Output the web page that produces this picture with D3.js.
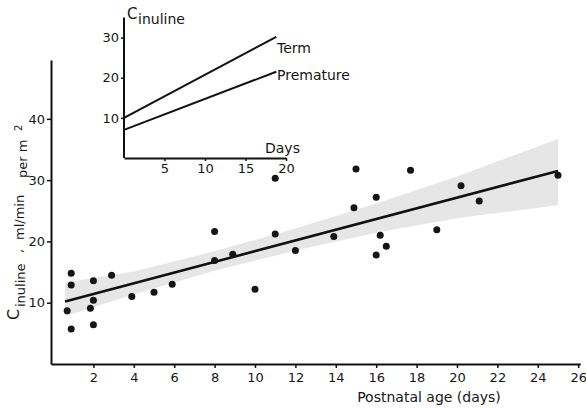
<!DOCTYPE html>
<html>
<head>
<meta charset="utf-8">
<script src="https://cdn.jsdelivr.net/npm/d3@7"></script>
<style>
  body { margin: 0; background: #fff; }
  text { font-family: "DejaVu Sans", sans-serif; fill: #161616; }
</style>
</head>
<body>
<svg width="586" height="408"></svg>
<script>
// scatter: postnatal age (days) vs inulin clearance
var ageDays = [0.9, 0.9, 0.7, 0.9, 2, 2, 1.85, 2, 2.9, 3.9, 5, 5.9, 8, 8, 8.9, 10, 11, 11, 12,
               13.9, 15, 14.9, 16, 16.2, 16.5, 16, 17.7, 19, 20.2, 21.1, 25];
var clearance = [14.8, 12.9, 8.7, 5.7, 13.6, 10.4, 9.1, 6.4, 14.5, 11.0, 11.7, 13.0, 21.6, 16.9, 17.9, 12.2, 21.2, 30.3, 18.5,
                 20.8, 31.8, 25.5, 27.2, 21.0, 19.2, 17.8, 31.6, 21.9, 29.1, 26.6, 30.8];

// regression line and its grey band
var regX = [0.6, 25];
var regY = [10.2, 31.5];
var bandX  = [0.6, 4, 8, 12, 16, 20, 25];
var bandLo = [7.8, 11.4, 15.2, 18.5, 21.4, 23.8, 25.9];
var bandHi = [13.3, 15.1, 18.4, 22.1, 26.2, 30.6, 36.7];

var xTicks = [2, 4, 6, 8, 10, 12, 14, 16, 18, 20, 22, 24, 26];
var yTicks = [10, 20, 30, 40];

// inset
var insetDays = [0, 18.8];
var termVals = [10, 30.2];
var prematureVals = [7, 21.5];
var insetXTicks = [5, 10, 15, 20];
var insetYTicks = [10, 20, 30];

var svg = d3.select("svg");

var x = d3.scaleLinear().domain([-0.1, 26.1]).range([51, 580.2]);
var y = d3.scaleLinear().domain([0, 49.6]).range([364, 60]);

// band
var band = bandX.map(function(d, i) { return [d, bandLo[i], bandHi[i]]; });
svg.append("path")
  .datum(band)
  .attr("fill", "#e6e6e6")
  .attr("d", d3.area()
    .x(function(d) { return x(d[0]); })
    .y0(function(d) { return y(d[1]); })
    .y1(function(d) { return y(d[2]); }));

// regression line
svg.append("path")
  .datum(regX.map(function(d, i) { return [d, regY[i]]; }))
  .attr("fill", "none")
  .attr("stroke", "#111")
  .attr("stroke-width", 2.6)
  .attr("d", d3.line()
    .x(function(d) { return x(d[0]); })
    .y(function(d) { return y(d[1]); }));

// points
svg.selectAll(".dot")
  .data(ageDays)
  .enter().append("circle")
  .attr("class", "dot")
  .attr("cx", function(d) { return x(d); })
  .attr("cy", function(d, i) { return y(clearance[i]); })
  .attr("r", 3.5)
  .attr("fill", "#151515");

// axes
var xAxis = svg.append("g")
  .attr("transform", "translate(0,364)")
  .call(d3.axisBottom(x).tickValues(xTicks).tickSize(4).tickSizeOuter(0).tickPadding(5));
var yAxis = svg.append("g")
  .attr("transform", "translate(51,0)")
  .call(d3.axisLeft(y).tickValues(yTicks).tickSize(4).tickSizeOuter(0).tickPadding(2));

[xAxis, yAxis].forEach(function(g) {
  g.select(".domain").attr("stroke", "#111").attr("stroke-width", 2);
  g.selectAll(".tick line").attr("stroke", "#111").attr("stroke-width", 1.5);
  g.selectAll(".tick text").attr("font-size", 13).attr("font-family", "DejaVu Sans").attr("fill", "#161616");
});

svg.append("text")
  .attr("x", 429)
  .attr("y", 402)
  .attr("text-anchor", "middle")
  .attr("font-size", 14)
  .text("Postnatal  age (days)");

// rotated y label
var yl = svg.append("text").attr("transform", "rotate(-90)");
yl.append("tspan").attr("x", -320).attr("y", 19).attr("font-size", 16).text("C");
yl.append("tspan").attr("x", -307).attr("y", 25).attr("font-size", 13).text("inuline");
yl.append("tspan").attr("x", -253).attr("y", 23).attr("font-size", 13).text(",");
yl.append("tspan").attr("x", -240).attr("y", 24).attr("font-size", 13).text("ml/min");
yl.append("tspan").attr("x", -178).attr("y", 27).attr("font-size", 13).text("per m");
yl.append("tspan").attr("x", -131).attr("y", 22).attr("font-size", 10).text("2");

// ---- inset ----
var ix = d3.scaleLinear().domain([0, 20]).range([124, 286]);
var iy = d3.scaleLinear().domain([0, 35]).range([158, 17.5]);

var inLine = d3.line()
  .x(function(d) { return ix(d[0]); })
  .y(function(d) { return iy(d[1]); });

[termVals, prematureVals].forEach(function(vals) {
  svg.append("path")
    .datum(insetDays.map(function(d, i) { return [d, vals[i]]; }))
    .attr("fill", "none")
    .attr("stroke", "#111")
    .attr("stroke-width", 2)
    .attr("d", inLine);
});

var ixAxis = svg.append("g")
  .attr("transform", "translate(0,158)")
  .call(d3.axisBottom(ix).tickValues(insetXTicks).tickSize(3).tickSizeOuter(0).tickPadding(3));
var iyAxis = svg.append("g")
  .attr("transform", "translate(124,0)")
  .call(d3.axisLeft(iy).tickValues(insetYTicks).tickSize(3).tickSizeOuter(0).tickPadding(2));
iyAxis.select(".domain").attr("d", "M-0,158V17.5");

[ixAxis, iyAxis].forEach(function(g) {
  g.select(".domain").attr("stroke", "#111").attr("stroke-width", 2);
  g.selectAll(".tick line").attr("stroke", "#111").attr("stroke-width", 1.5);
  g.selectAll(".tick text").attr("font-size", 13).attr("font-family", "DejaVu Sans").attr("fill", "#161616");
});

svg.append("text").attr("x", 277).attr("y", 53).attr("font-size", 14).text("Term");
svg.append("text").attr("x", 277).attr("y", 80).attr("font-size", 14).text("Premature");
svg.append("text").attr("x", 265).attr("y", 153).attr("font-size", 14).text("Days");

var it = svg.append("text");
it.append("tspan").attr("x", 127).attr("y", 19).attr("font-size", 15).text("C");
it.append("tspan").attr("x", 138).attr("y", 24).attr("font-size", 14).text("inuline");
</script>
</body>
</html>
